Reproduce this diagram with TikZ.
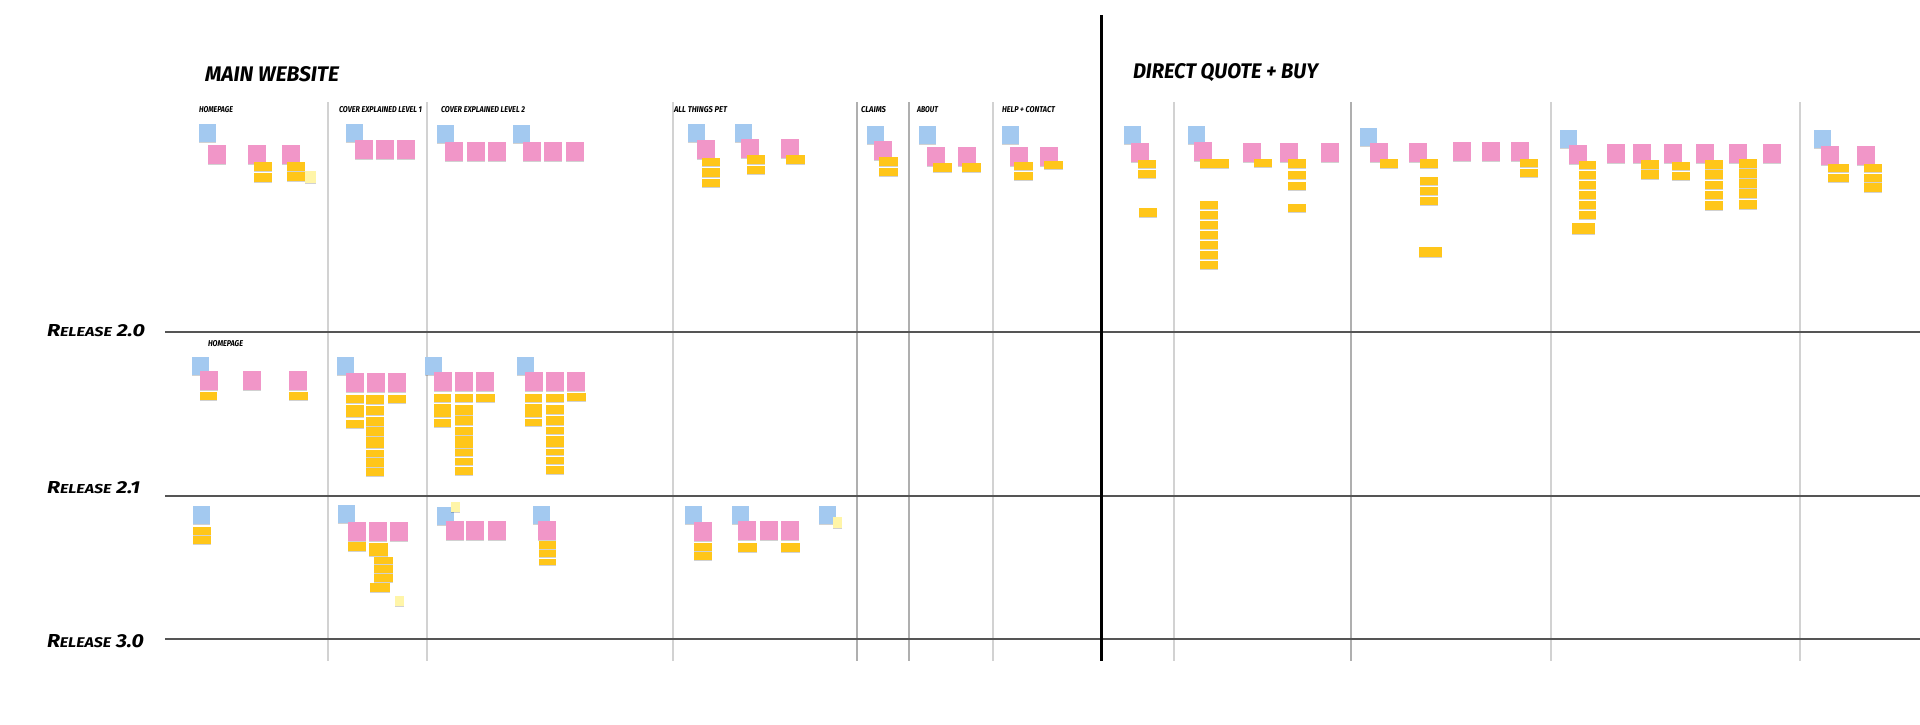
\documentclass[tikz,border=0pt]{standalone}
\usepackage{fontspec}
\usepackage{graphicx}
\newfontfamily\hand{Fira Sans}
\usetikzlibrary{shadows}
\definecolor{noteblue}{HTML}{A3C9F0}
\definecolor{notepink}{HTML}{F196C8}
\definecolor{noteyellow}{HTML}{FFC61A}
\definecolor{notepale}{HTML}{FFF5A8}
\definecolor{gridgray}{HTML}{D2D2D2}
\definecolor{griddark}{HTML}{AFAFAF}
\definecolor{relgray}{HTML}{555555}
\tikzset{
  note/.style={draw=none, inner sep=0pt, outer sep=0pt, anchor=north west,
    drop shadow={shadow xshift=0pt, shadow yshift=-0.5pt, opacity=0.18, fill=black}},
  bn/.style={note, fill=noteblue, minimum width=8.5pt, minimum height=9pt},
  pn/.style={note, fill=notepink, minimum width=9pt, minimum height=9.5pt},
  yn/.style={note, fill=noteyellow},
  paleyn/.style={note, fill=notepale},
  vline/.style={draw=gridgray, line width=1pt},
  vdark/.style={draw=griddark, line width=1pt},
  relline/.style={draw=relgray, line width=1.2pt},
  lbl/.style={inner sep=0pt, outer sep=0pt, anchor=south west},
}
\newcommand\hd[2]{\resizebox{#1}{3pt}{\hand\bfseries\itshape #2}}
\newcommand\rel[3]{\resizebox{#1}{#2}{\hand\bfseries\itshape{\fontsize{10}{10}\selectfont R}{\fontsize{7.5}{7.5}\selectfont ELEASE}\fontsize{10}{10}\selectfont\ #3}}
\begin{document}
\begin{tikzpicture}[x=0.5pt,y=-0.5pt]
\useasboundingbox (0,0) rectangle (1920,724);
\fill[white] (0,0) rectangle (1920,724);

% grid lines
\foreach \x in {328,427,673,993,1174,1551,1800} \draw[vline] (\x,102) -- (\x,661);
\foreach \x in {857,909,1351} \draw[vdark] (\x,102) -- (\x,661);
\draw[relline] (165,332) -- (1920,332);
\draw[relline] (165,496) -- (1920,496);
\draw[relline] (165,639) -- (1920,639);
\draw[line width=1.5pt] (1101,15) -- (1101,661);

% titles
\node[lbl] (tmain) at (205,82) {\resizebox{67pt}{7.5pt}{\hand\bfseries\itshape MAIN WEBSITE}};
\node[lbl] (tdirect) at (1133,82) {\resizebox{92.5pt}{7.5pt}{\hand\bfseries\itshape DIRECT QUOTE + BUY}};

% section headers
\node[lbl] (hhome) at (199,113) {\hd{17pt}{HOMEPAGE}};
\node[lbl] (hcov1) at (339,113) {\hd{41.5pt}{COVER EXPLAINED LEVEL 1}};
\node[lbl] (hcov2) at (441,113) {\hd{42pt}{COVER EXPLAINED LEVEL 2}};
\node[lbl] (hpet) at (674,113) {\hd{26.5pt}{ALL THINGS PET}};
\node[lbl] (hclaims) at (861,113) {\hd{12.5pt}{CLAIMS}};
\node[lbl] (habout) at (917,113) {\hd{10.5pt}{ABOUT}};
\node[lbl] (hhelp) at (1002,113) {\hd{26.5pt}{HELP + CONTACT}};
\node[lbl] (hhome2) at (208,347) {\hd{17.5pt}{HOMEPAGE}};

% release labels
\node[lbl] (r20) at (47,337) {\rel{49pt}{6pt}{2.0}};
\node[lbl] (r21) at (47,494) {\rel{46.5pt}{6pt}{2.1}};
\node[lbl] (r30) at (47,648) {\rel{48.5pt}{6.5pt}{3.0}};

% blue notes
\foreach \x/\y [count=\i] in {199/124,346/124,437/125,513/125,688/124,735/124,867/126,919/126,1002/126,1124/126,1188/126,1360/128,1560/130,1814/130,
  192/357,337/357,425/357,517/357,
  193/506,338/505,437/507,533/506,685/506,732/506,819/506}
  \node[bn] (b\i) at (\x,\y) {};

% pink notes
\foreach \x/\y [count=\i] in {208/145,248/145,282/145,355/140,376/140,397/140,445/142,467/142,488/142,523/142,544/142,566/142,697/140,741/139,781/139,874/141,927/147,958/147,1010/147,1040/147,1131/143,1194/142,1243/143,1280/143,1321/143,1370/143,1409/143,1453/142,1482/142,1511/142,1569/145,1607/144,1633/144,1664/144,1696/144,1729/144,1763/144,1821/146,1857/146,
  200/371,243/371,289/371,346/373,367/373,388/373,434/372,455/372,476/372,525/372,546/372,567/372,
  348/522,369/522,390/522,446/521,466/521,488/521,538/521,694/522,738/521,760/521,781/521}
  \node[pn] (p\i) at (\x,\y) {};

% yellow notes
\foreach \x/\y/\w/\h [count=\i] in {254/162/18/9,254/173/18/9,287/162/18/9,287/172/18/9,
  702/158/18/8,702/168/18/9,702/179/18/8,747/155/18/9,747/166/18/8,786/155/19/9,
  879/157/19/9,879/168/19/8,933/163/19/9,962/163/19/9,1014/162/19/8,1014/172/19/8,1044/161/19/8,
  1138/160/18/8,1138/170/18/8,1139/208/18/9,1200/159/29/9,
  1200/201/18/8,1200/211/18/8,1200/221/18/8,1200/231/18/8,1200/241/18/8,1200/251/18/8,1200/261/18/8,
  1254/159/18/8,1288/159/18/9,1288/171/18/8,1288/182/18/8,1288/204/18/8,
  1380/159/18/9,1420/159/18/9,1420/177/18/8,1420/187/18/8,1420/197/18/8,1419/247/23/10,
  1520/159/18/8,1520/169/18/8,
  1579/161/17/8,1579/171/17/8,1579/181/17/8,1579/191/17/8,1579/201/17/8,1579/211/17/8,1572/223/23/11,
  1641/160/18/9,1641/170/18/9,1672/162/18/8,1672/172/18/8,
  1705/160/18/9,1705/170/18/9,1705/181/18/8,1705/191/18/8,1705/201/18/9,
  1739/159/18/9,1739/169/18/9,1739/179/18/9,1739/189/18/9,1739/200/18/9,
  1828/164/21/8,1828/174/21/8,1864/164/18/8,1864/174/18/8,1864/183/18/9,
  200/392/17/8,289/392/19/8,
  346/395/18/8,346/405/18/12,346/420/18/8,
  366/395/18/9,366/406/18/9,366/417/18/9,366/427/18/9,366/437/18/11,366/450/18/7,366/458/18/9,366/468/18/8,
  388/395/18/8,
  434/394/17/8,434/404/17/13,434/419/17/8,
  455/394/18/8,455/405/18/10,455/416/18/9,455/427/18/8,455/436/18/12,455/449/18/7,455/458/18/7,455/467/18/8,
  476/394/19/8,
  525/394/17/8,525/404/17/13,525/419/17/7,
  546/394/18/8,546/405/18/9,546/416/18/9,546/427/18/7,546/436/18/11,546/449/18/6,546/457/18/7,546/466/18/8,
  567/393/19/8,
  193/527/18/8,193/536/18/8,
  348/542/18/9,369/543/19/13,374/557/19/7,374/565/19/8,374/574/19/8,370/583/20/9,
  539/541/17/8,539/550/17/7,539/559/17/6,
  694/543/18/8,694/552/18/8,738/543/19/9,781/543/19/9}
  \node[yn, minimum width={\w*0.5pt}, minimum height={\h*0.5pt}] (y\i) at (\x,\y) {};

% pale yellow notes
\foreach \x/\y/\w/\h [count=\i] in {305/171/11/12,395/596/9/10,451/502/9/10,833/517/9/11}
  \node[paleyn, minimum width={\w*0.5pt}, minimum height={\h*0.5pt}] (q\i) at (\x,\y) {};
\end{tikzpicture}
\end{document}
